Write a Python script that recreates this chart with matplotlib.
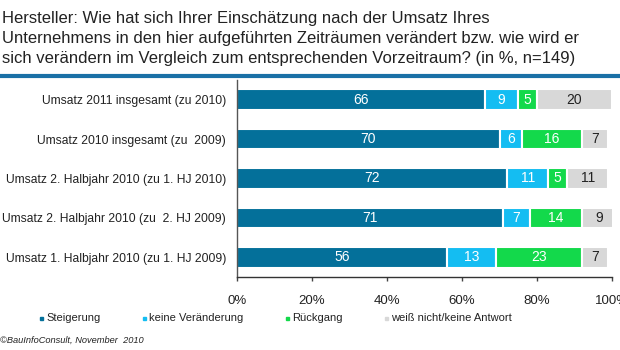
import matplotlib
matplotlib.use("Agg")
import matplotlib.pyplot as plt
import numpy as np

plt.rcParams['font.family'] = ['Liberation Sans', 'DejaVu Sans']

categories = [
    "Umsatz 2011 insgesamt (zu 2010)",
    "Umsatz 2010 insgesamt (zu  2009)",
    "Umsatz 2. Halbjahr 2010 (zu 1. HJ 2010)",
    "Umsatz 2. Halbjahr 2010 (zu  2. HJ 2009)",
    "Umsatz 1. Halbjahr 2010 (zu 1. HJ 2009)",
]
series_names = ["Steigerung", "keine Veränderung", "Rückgang", "weiß nicht/keine Antwort"]
steigerung = [66, 70, 72, 71, 56]
keine = [9, 6, 11, 7, 13]
rueckgang = [5, 16, 5, 14, 23]
weiss = [20, 7, 11, 9, 7]
xticks = [0, 20, 40, 60, 80, 100]
xticklabels = ["0%", "20%", "40%", "60%", "80%", "100%"]

colors = ["#04709a", "#14bdf2", "#13d94b", "#d8d8d8"]
text_colors = ["white", "white", "white", "#222222"]

W, H = 620, 350
fig = plt.figure(figsize=(W / 100, H / 100), dpi=100)
ax = fig.add_axes([237 / W, 1 - 277 / H, (612 - 237) / W, (277 - 80) / H])

y = np.arange(len(categories))
left = np.zeros(len(categories))
for vals, c, tc in zip([steigerung, keine, rueckgang, weiss], colors, text_colors):
    vals = np.array(vals, dtype=float)
    ax.barh(y, vals, left=left, height=0.52, color=c, edgecolor="white", linewidth=1.5)
    for yi, l, v in zip(y, left, vals):
        ax.text(l + v / 2, yi, f"{int(v)}", ha="center", va="center", color=tc, fontsize=10)
    left += vals

ax.set_xlim(0, 100)
ax.set_ylim(len(categories) - 0.5, -0.5)
ax.set_yticks(y)
ax.set_yticklabels(categories, fontsize=8.7, color="#222222")
ax.tick_params(axis="y", length=0, pad=8)
ax.set_xticks(xticks)
ax.set_xticklabels(xticklabels, fontsize=9.5, color="#222222")
ax.tick_params(axis="x", direction="out", length=3, width=1, color="#444444", pad=10)
for s in ["top", "right"]:
    ax.spines[s].set_visible(False)
ax.spines["left"].set_color("#555555")
ax.spines["bottom"].set_color("#333333")
ax.spines["left"].set_linewidth(1)
ax.spines["bottom"].set_linewidth(1)

# title
title_lines = [
    "Hersteller: Wie hat sich Ihrer Einschätzung nach der Umsatz Ihres",
    "Unternehmens in den hier aufgeführten Zeiträumen verändert bzw. wie wird er",
    "sich verändern im Vergleich zum entsprechenden Vorzeitraum? (in %, n=149)",
]
for i, line in enumerate(title_lines):
    fig.text(2 / W, 1 - (19 + 20 * i) / H, line, fontsize=12, color="#222222",
             ha="left", va="center")
fig.add_artist(plt.Line2D([0, 1], [1 - 76 / H, 1 - 76 / H], color="#1a70a6", linewidth=3,
                          transform=fig.transFigure))

# legend
legend_x = [40, 143, 286, 385]
for lx, name, c in zip(legend_x, series_names, colors):
    fig.patches.append(plt.Rectangle((lx / W, 1 - 320 / H), 3 / W, 3 / H, color=c,
                                     transform=fig.transFigure))
    fig.text((lx + 6) / W, 1 - 318 / H, name, fontsize=8, color="#222222",
             ha="left", va="center")

fig.text(0, 1 - 340 / H, "©BauInfoConsult, November  2010", fontsize=6.7, style="italic",
         color="#222222", ha="left", va="center")

fig.savefig("out.png", dpi=100)
